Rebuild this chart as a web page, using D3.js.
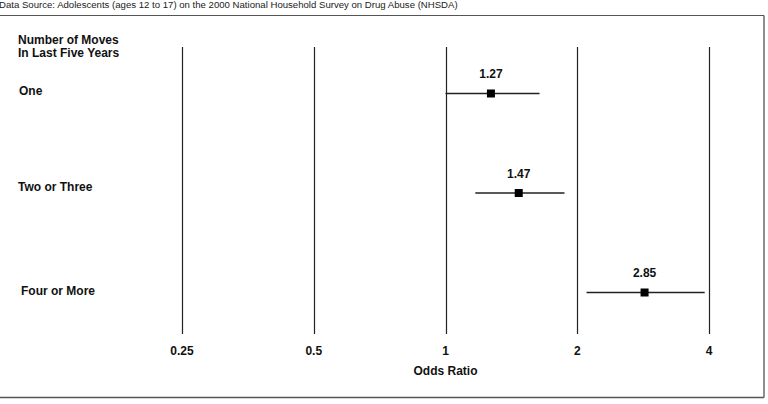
<!DOCTYPE html>
<html>
<head>
<meta charset="utf-8">
<script src="https://cdn.jsdelivr.net/npm/d3@7"></script>
<style>
  body { margin: 0; background: #fff; }
  svg { display: block; font-family: "Liberation Sans", Arial, sans-serif; }
  .lab { font-weight: bold; font-size: 12px; fill: #111; }
</style>
</head>
<body>
<div id="chart"></div>
<script>
const categories = ["One", "Two or Three", "Four or More"];
const oddsRatios = [1.27, 1.47, 2.85];
const lowerCI = [1.0, 1.17, 2.1];
const upperCI = [1.64, 1.87, 3.91];
const tickValues = [0.25, 0.5, 1, 2, 4];
const tickLabels = ["0.25", "0.5", "1", "2", "4"];

const width = 768, height = 404;
const svg = d3.select("#chart").append("svg")
  .attr("width", width).attr("height", height);

const x = d3.scaleLog().base(2).domain([0.25, 4]).range([182, 709]);
const y = d3.scalePoint().domain(categories).range([93, 292]);

// frame
svg.append("line").attr("x1", 0).attr("x2", 764).attr("y1", 15.5).attr("y2", 15.5)
  .attr("stroke", "#555").attr("stroke-width", 1.2);
svg.append("line").attr("x1", 764).attr("x2", 764).attr("y1", 15.5).attr("y2", 397.5)
  .attr("stroke", "#444").attr("stroke-width", 1.2);
svg.append("line").attr("x1", 0).attr("x2", 764).attr("y1", 397.5).attr("y2", 397.5)
  .attr("stroke", "#555").attr("stroke-width", 1.5);

svg.append("text").attr("x", -1).attr("y", 8)
  .attr("font-size", 9.6).attr("fill", "#222")
  .text("Data Source: Adolescents (ages 12 to 17) on the 2000 National Household Survey on Drug Abuse (NHSDA)");

// reference lines
svg.append("g").selectAll("line").data(tickValues).join("line")
  .attr("x1", d => Math.round(x(d)) + 0.5).attr("x2", d => Math.round(x(d)) + 0.5)
  .attr("y1", 47).attr("y2", 334)
  .attr("stroke", "#222").attr("stroke-width", 1.2);

svg.append("g").selectAll("text").data(tickValues).join("text")
  .attr("class", "lab")
  .attr("x", d => x(d)).attr("y", 355)
  .attr("text-anchor", "middle")
  .text((d, i) => tickLabels[i]);

svg.append("text").attr("class", "lab")
  .attr("x", x(1)).attr("y", 375).attr("text-anchor", "middle")
  .text("Odds Ratio");

svg.append("text").attr("class", "lab").attr("x", 18).attr("y", 44).text("Number of Moves");
svg.append("text").attr("class", "lab").attr("x", 18).attr("y", 57).text("In Last Five Years");

const rows = categories.map((c, i) => ({ c, v: oddsRatios[i], lo: lowerCI[i], hi: upperCI[i] }));
const labelX = [19, 18, 21];
const labelDy = [2, -2, 3];

const g = svg.append("g").selectAll("g").data(rows).join("g");
g.append("text").attr("class", "lab")
  .attr("x", (d, i) => labelX[i]).attr("y", (d, i) => y(d.c) + labelDy[i])
  .text(d => d.c);
g.append("line")
  .attr("x1", d => x(d.lo)).attr("x2", d => x(d.hi))
  .attr("y1", d => y(d.c) + 0.5).attr("y2", d => y(d.c) + 0.5)
  .attr("stroke", "#222").attr("stroke-width", 1.3);
g.append("rect")
  .attr("x", d => x(d.v) - 4).attr("y", d => y(d.c) - 3.5)
  .attr("width", 8).attr("height", 8).attr("fill", "#000");
g.append("text").attr("class", "lab")
  .attr("x", d => x(d.v)).attr("y", d => y(d.c) - 15)
  .attr("text-anchor", "middle")
  .text(d => d.v.toFixed(2));
</script>
</body>
</html>
